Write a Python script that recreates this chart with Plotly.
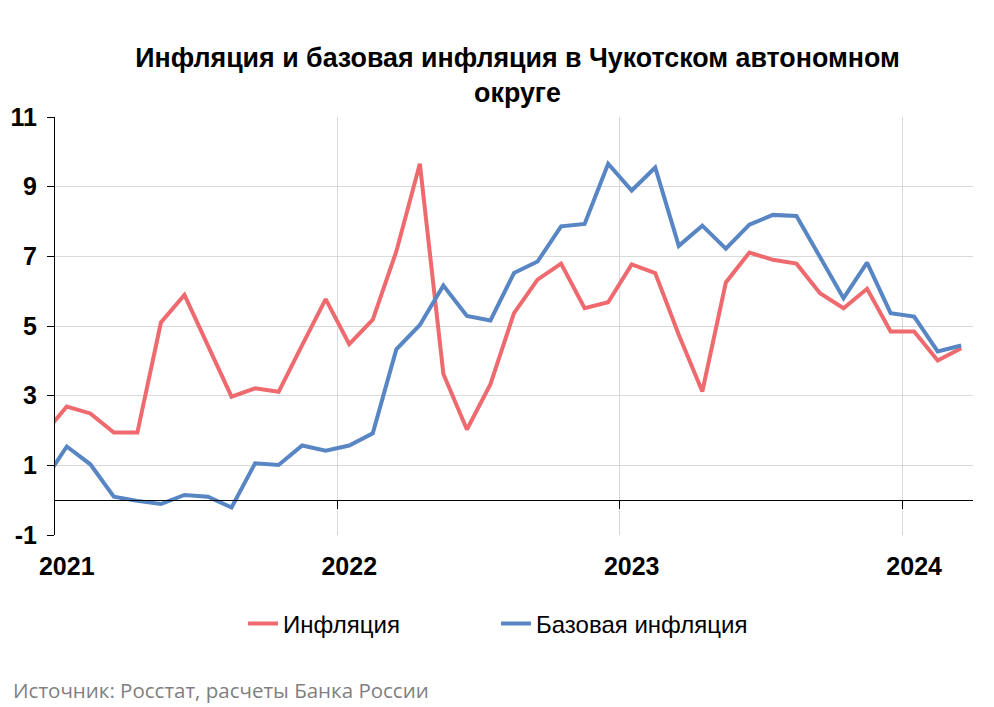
import plotly.graph_objects as go
import pandas as pd

# Months (Dec 2020 value is only partly visible at the left edge)
months = [p.strftime("%Y-%m") for p in pd.period_range("2020-12", "2024-03", freq="M")]

inflation = [1.88,
             2.69, 2.49, 1.94, 1.94, 5.10, 5.89, 4.40, 2.97, 3.21, 3.11, 4.45, 5.77,
             4.48, 5.18, 7.14, 9.66, 3.62, 2.03, 3.33, 5.37, 6.33, 6.79, 5.51, 5.68,
             6.77, 6.52, 4.75, 3.12, 6.25, 7.11, 6.90, 6.79, 5.94, 5.51, 6.07, 4.84,
             4.84, 4.01, 4.36]

core_inflation = [0.52,
                  1.54, 1.03, 0.10, -0.02, -0.11, 0.15, 0.10, -0.21, 1.06, 1.01, 1.57, 1.42,
                  1.57, 1.92, 4.33, 5.03, 6.16, 5.29, 5.16, 6.52, 6.85, 7.86, 7.93, 9.66,
                  8.89, 9.55, 7.30, 7.88, 7.22, 7.91, 8.19, 8.16, 7.00, 5.80, 6.82, 5.37,
                  5.27, 4.27, 4.44]

year_labels = ["2021", "2022", "2023", "2024"]
y_ticks = [-1, 1, 3, 5, 7, 9, 11]
y_tick_text = ["-1", "1", "3", "5", "7", "9", "11"]

# slot positions: Jan 2021 occupies [0,1], point at centre
x_pos = [i - 0.5 for i in range(len(months))]
year_start = [12 * k for k in range(1, len(year_labels))]          # boundaries 2022..2024
year_label_pos = [12 * k + 0.5 for k in range(len(year_labels))]   # centred on January

RED = "#EF6A6E"
BLUE = "#5886C4"
FONT = "Liberation Sans, Arial, sans-serif"

# the page body adds an 8px offset, so the figure is 8px smaller than the window
W, H = 986, 699

fig = go.Figure()
fig.add_trace(go.Scatter(x=x_pos, y=inflation, mode="lines", name="Инфляция",
                         line=dict(color=RED, width=4)))
fig.add_trace(go.Scatter(x=x_pos, y=core_inflation, mode="lines", name="Базовая инфляция",
                         line=dict(color=BLUE, width=4)))
# helper trace so the zero-line axis is drawn
fig.add_trace(go.Scatter(x=[0], y=[0], xaxis="x2", mode="none", showlegend=False,
                         hoverinfo="skip"))

fig.update_layout(
    width=W, height=H,
    margin=dict(l=46.5, r=21, t=109.3, b=172, autoexpand=False),
    paper_bgcolor="white", plot_bgcolor="white",
    font=dict(family=FONT, color="black"),
    title=dict(text="<b>Инфляция и базовая инфляция в Чукотском автономном<br>округе</b>",
               xref="container", yref="container", x=509.5 / W, y=1 - 59 / H,
               xanchor="center", yanchor="middle",
               font=dict(size=26.8, family=FONT, color="black")),
    showlegend=True,
    legend=dict(orientation="h", xref="container", yref="container",
                x=235 / W, y=1 - 616 / H, xanchor="left", yanchor="middle",
                font=dict(size=24, family=FONT, color="black"),
                entrywidth=208, entrywidthmode="pixels",
                bgcolor="rgba(0,0,0,0)"),
    xaxis=dict(range=[0, 39], tickmode="array", tickvals=year_label_pos, ticktext=year_labels,
               showgrid=False, zeroline=False, showline=False, ticks="", automargin=False,
               tickfont=dict(size=25, family=FONT, color="black", weight="bold"),
               ticklabelstandoff=14),
    xaxis2=dict(range=[0, 39], overlaying="x", anchor="free", position=1 / 12,
                tickmode="array", tickvals=year_start, showticklabels=False, automargin=False,
                showgrid=True, gridcolor="#D9D9D9", gridwidth=1,
                ticks="outside", ticklen=8, tickcolor="black", tickwidth=1,
                showline=True, linecolor="black", linewidth=1, zeroline=False),
    yaxis=dict(range=[-1, 11], tickmode="array", tickvals=y_ticks, ticktext=y_tick_text,
               showgrid=True, gridcolor="#D9D9D9", gridwidth=1, zeroline=False,
               showline=True, linecolor="black", linewidth=1, automargin=False,
               ticks="outside", ticklen=7, tickcolor="black", tickwidth=1,
               tickfont=dict(size=25, family=FONT, color="black", weight="bold"),
               ticklabelstandoff=5),
    annotations=[dict(text="Источник: Росстат, расчеты Банка России",
                      xref="paper", yref="paper",
                      x=(10 - 54.5) / 918.5, y=(535 - 690) / 417.7,
                      xanchor="left", yanchor="middle", showarrow=False,
                      font=dict(size=20.5, family="Open Sans, sans-serif", color="#7F7F7F"))],
)

fig.write_html("out.html")
